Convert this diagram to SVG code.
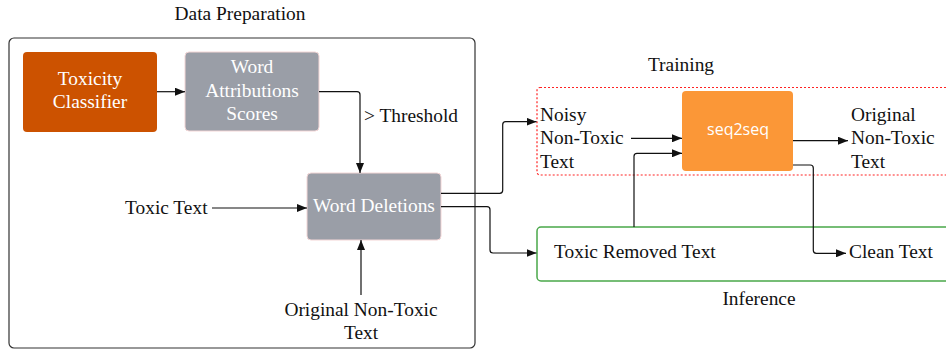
<svg xmlns="http://www.w3.org/2000/svg" width="946" height="349" viewBox="0 0 946 349">
<defs>
<marker id="ah" markerWidth="10" markerHeight="8" refX="10" refY="4" orient="auto" markerUnits="userSpaceOnUse">
<path d="M0,0 L10,4 L0,8 Z" fill="#111"/>
</marker>
<style>
.t{font-family:"Liberation Serif","Times New Roman",serif;font-size:19.4px;fill:#111}
.w{font-family:"Liberation Serif","Times New Roman",serif;font-size:19.4px;fill:#fff}
.s{font-family:"Open Sans","Liberation Sans",Arial,sans-serif;font-size:16px;fill:#fff}
.c{fill:none;stroke:#111;stroke-width:1.2;marker-end:url(#ah)}
.g{fill:#9a9ea7;stroke:#f3d6d6;stroke-width:1}
</style>
</defs>
<rect width="946" height="349" fill="#fff"/>
<g id="data-preparation">
<rect x="9" y="38" width="466" height="310" rx="5" fill="none" stroke="#333" stroke-width="1.2"/>
<text class="t" x="240" y="20" text-anchor="middle">Data Preparation</text>
</g>
<g id="training">
<rect x="537" y="87.5" width="420" height="87.5" rx="3" fill="none" stroke="#f22" stroke-width="1.2" stroke-dasharray="2,2"/>
<text class="t" x="681" y="71" text-anchor="middle">Training</text>
</g>
<g id="inference">
<rect x="537" y="227" width="420" height="54" rx="4" fill="none" stroke="#4aa84a" stroke-width="1.5"/>
<text class="t" x="759" y="305" text-anchor="middle">Inference</text>
</g>
<g id="toxicity-classifier">
<rect x="23" y="52" width="134" height="80" rx="4" fill="#cc5200"/>
<text class="w" x="90" y="85" text-anchor="middle">Toxicity</text>
<text class="w" x="90" y="108" text-anchor="middle">Classifier</text>
</g>
<g id="word-attributions">
<rect class="g" x="185" y="52" width="134" height="79" rx="4"/>
<text class="w" x="252" y="73" text-anchor="middle">Word</text>
<text class="w" x="252" y="96.5" text-anchor="middle">Attributions</text>
<text class="w" x="252" y="120" text-anchor="middle">Scores</text>
</g>
<g id="word-deletions">
<rect class="g" x="307" y="173" width="134" height="67" rx="4"/>
<text class="w" x="374" y="211.5" text-anchor="middle">Word Deletions</text>
</g>
<g id="toxic-text">
<text class="t" x="125" y="213.5">Toxic Text</text>
</g>
<g id="original-non-toxic">
<text class="t" x="361" y="316" text-anchor="middle">Original Non-Toxic</text>
<text class="t" x="361" y="339" text-anchor="middle">Text</text>
</g>
<g id="threshold">
<text class="t" x="364" y="122">&gt; Threshold</text>
</g>
<g id="noisy-text">
<text class="t" x="540" y="121">Noisy</text>
<text class="t" x="540" y="144">Non-Toxic</text>
<text class="t" x="540" y="167.5">Text</text>
</g>
<g id="seq2seq">
<rect x="682" y="91" width="111" height="80" rx="4" fill="#fb9737"/>
<text class="s" x="738" y="135" text-anchor="middle">seq2seq</text>
</g>
<g id="original-output">
<text class="t" x="851" y="121">Original</text>
<text class="t" x="851" y="144">Non-Toxic</text>
<text class="t" x="851" y="167.5">Text</text>
</g>
<g id="toxic-removed">
<text class="t" x="554" y="258">Toxic Removed Text</text>
</g>
<g id="clean-text">
<text class="t" x="849" y="258">Clean Text</text>
</g>
<g id="connectors">
<path class="c" d="M157,91.7 H185"/>
<path class="c" d="M319,91.7 H357 Q360,91.7 360,94.7 V173"/>
<path class="c" d="M212,208 H307"/>
<path class="c" d="M361,295 V240"/>
<path class="c" d="M441,193.3 H499.7 Q502.7,193.3 502.7,190.3 V124.7 Q502.7,121.7 505.7,121.7 H536.5"/>
<path class="c" d="M441,206.7 H487 Q490,206.7 490,209.7 V250 Q490,253 493,253 H536.5"/>
<path class="c" d="M631,138.3 H682"/>
<path class="c" d="M634,227 V156.3 Q634,153.3 637,153.3 H682"/>
<path class="c" d="M793,140.7 H848"/>
<path class="c" d="M793,165 H810.3 Q813.3,165 813.3,168 V250.3 Q813.3,253.3 816.3,253.3 H846"/>
</g>
</svg>
